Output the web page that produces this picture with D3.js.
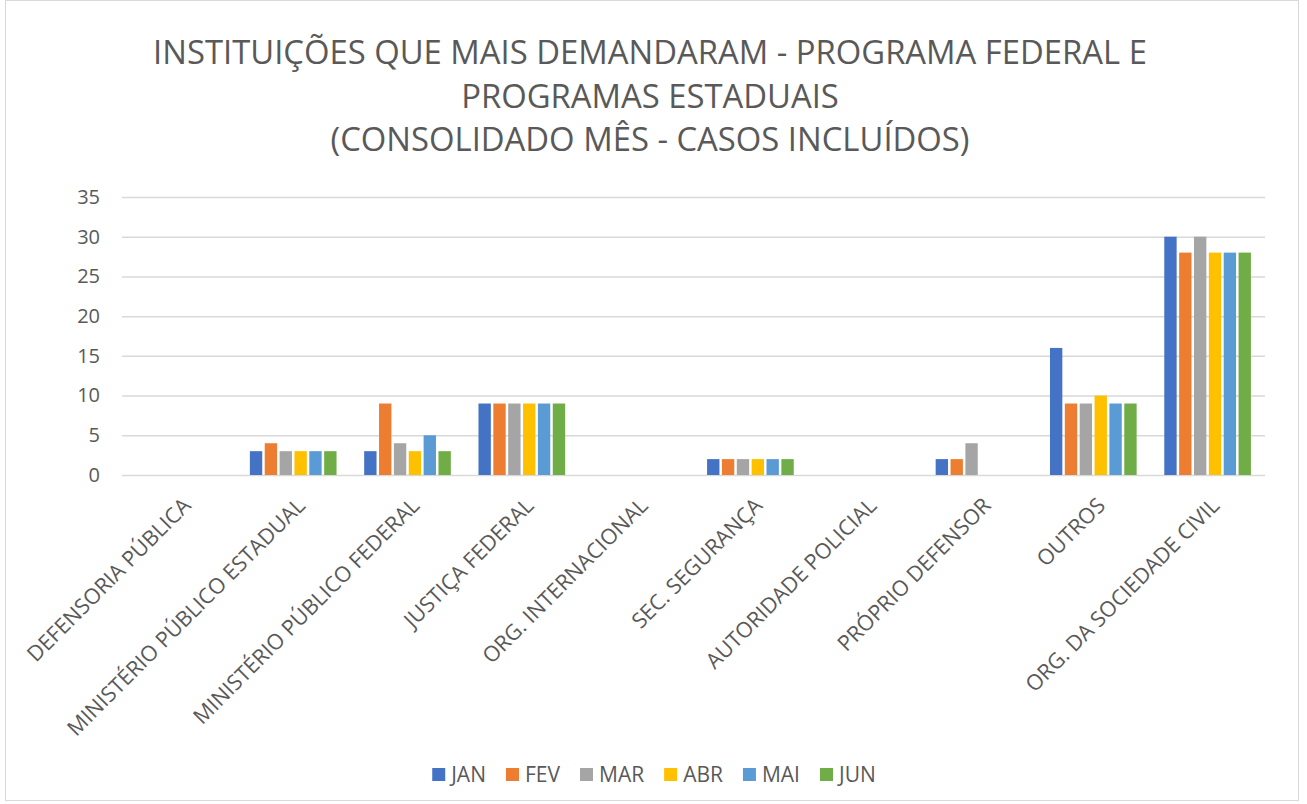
<!DOCTYPE html>
<html>
<head>
<meta charset="utf-8">
<script src="https://cdn.jsdelivr.net/npm/d3@7"></script>
<style>
  body { margin: 0; background: #fff; }
  text { font-family: "Open Sans", sans-serif; fill: #595959; }
</style>
</head>
<body>
<div id="chart"></div>
<script>
////////////////////////////////////////////////////////////////////////
// Data

let categories = [
  "DEFENSORIA PÚBLICA",
  "MINISTÉRIO PÚBLICO ESTADUAL",
  "MINISTÉRIO PÚBLICO FEDERAL",
  "JUSTIÇA FEDERAL",
  "ORG. INTERNACIONAL",
  "SEC. SEGURANÇA",
  "AUTORIDADE POLICIAL",
  "PRÓPRIO DEFENSOR",
  "OUTROS",
  "ORG. DA SOCIEDADE CIVIL"
];

let months = ["JAN", "FEV", "MAR", "ABR", "MAI", "JUN"];

let jan = [0, 3, 3, 9, 0, 2, 0, 2, 16, 30];
let fev = [0, 4, 9, 9, 0, 2, 0, 2, 9, 28];
let mar = [0, 3, 4, 9, 0, 2, 0, 4, 9, 30];
let abr = [0, 3, 3, 9, 0, 2, 0, 0, 10, 28];
let mai = [0, 3, 5, 9, 0, 2, 0, 0, 9, 28];
let jun = [0, 3, 3, 9, 0, 2, 0, 0, 9, 28];

let yTicks = [0, 5, 10, 15, 20, 25, 30, 35];

let titleLines = [
  "INSTITUIÇÕES QUE MAIS DEMANDARAM - PROGRAMA FEDERAL E",
  "PROGRAMAS ESTADUAIS",
  "(CONSOLIDADO MÊS - CASOS INCLUÍDOS)"
];

let series = [jan, fev, mar, abr, mai, jun];
let colors = ["#4472C4", "#ED7D31", "#A5A5A5", "#FFC000", "#5B9BD5", "#70AD47"];

////////////////////////////////////////////////////////////////////////
// SVG

let width = 1307;
let height = 804;
let plot = { left: 122, right: 1265, top: 197, bottom: 475 };

let svg = d3.select("#chart")
  .append("svg")
  .attr("width", width).attr("height", height);

// chart border
svg.append("rect")
  .attr("x", 5.5).attr("y", 0.5)
  .attr("width", 1293).attr("height", 800)
  .style("fill", "#fff")
  .style("stroke", "#D9D9D9")
  .style("stroke-width", 1);

// title
svg.append("g")
  .selectAll("text")
  .data(titleLines)
  .enter()
  .append("text")
  .attr("x", 650)
  .attr("y", function(d, i) { return 64 + i * 43.5; })
  .style("text-anchor", "middle")
  .style("font-size", "32.8px")
  .text(function(d) { return d; });

////////////////////////////////////////////////////////////////////////
// Scales

let x0 = d3.scaleBand()
  .domain(categories)
  .range([plot.left, plot.right])
  .paddingInner(0.22)
  .paddingOuter(0.11);

let x1 = d3.scaleBand()
  .domain(months)
  .range([0, x0.bandwidth()])
  .padding(0);

let yScale = d3.scaleLinear()
  .domain([0, 35])
  .range([plot.bottom, plot.top]);

// gridlines + y labels
let yAxis = d3.axisLeft(yScale)
  .tickValues(yTicks)
  .tickSize(-(plot.right - plot.left))
  .tickPadding(22);

let gy = svg.append("g")
  .attr("transform", "translate(" + plot.left + ",0)")
  .call(yAxis);
gy.select(".domain").remove();
gy.selectAll(".tick line")
  .style("stroke", "#D9D9D9")
  .style("stroke-width", 1.5);
gy.selectAll(".tick text")
  .style("font-size", "20px")
  .style("fill", "#595959");

////////////////////////////////////////////////////////////////////////
// Bars

let rows = [];
categories.forEach(function(c, ci) {
  months.forEach(function(m, mi) {
    rows.push({ cat: c, month: m, value: series[mi][ci], color: colors[mi] });
  });
});

svg.append("g")
  .selectAll(".bar")
  .data(rows.filter(function(d) { return d.value > 0; }))
  .enter()
  .append("rect")
  .attr("class", "bar")
  .attr("x", function(d) { return x0(d.cat) + x1(d.month) + 1; })
  .attr("y", function(d) { return yScale(d.value); })
  .attr("width", x1.bandwidth() - 2.5)
  .attr("height", function(d) { return yScale(0) - yScale(d.value); })
  .style("fill", function(d) { return d.color; });

////////////////////////////////////////////////////////////////////////
// X labels (rotated)

svg.append("g")
  .selectAll(".xlabel")
  .data(categories)
  .enter()
  .append("text")
  .attr("class", "xlabel")
  .attr("transform", function(d) {
    let cx = x0(d) + x0.bandwidth() / 2;
    return "translate(" + (cx + 2) + "," + 496 + ") rotate(-45)";
  })
  .attr("dy", "0.72em")
  .style("text-anchor", "end")
  .style("font-size", "21.5px")
  .text(function(d) { return d; });

////////////////////////////////////////////////////////////////////////
// Legend

let legend = svg.append("g");

let items = legend.selectAll(".legend")
  .data(months)
  .enter()
  .append("g")
  .attr("class", "legend");

items.append("rect")
  .attr("y", 768)
  .attr("width", 13).attr("height", 13)
  .style("fill", function(d, i) { return colors[i]; });

items.append("text")
  .attr("x", 19).attr("y", 782)
  .style("font-size", "21px")
  .text(function(d) { return d; });

// lay the items out one after the other, then centre the row
let pos = 0;
items.each(function() {
  let w = d3.select(this).select("text").node().getComputedTextLength();
  d3.select(this).attr("transform", "translate(" + pos + ",0)");
  pos += 19 + w + 20;
});
let total = pos - 20;
legend.attr("transform", "translate(" + (654 - total / 2) + ",0)");
</script>
</body>
</html>
